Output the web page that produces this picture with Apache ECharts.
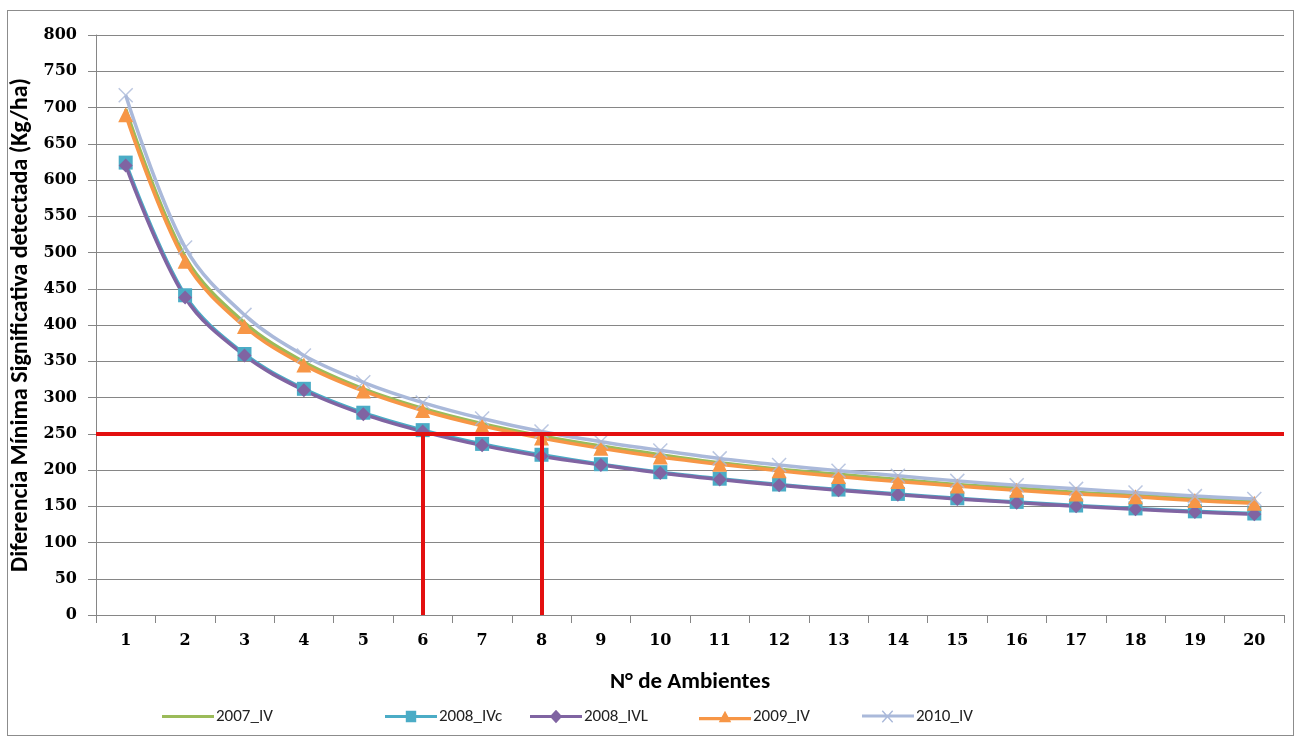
<!DOCTYPE html>
<html>
<head>
<meta charset="utf-8">
<script src="https://cdn.jsdelivr.net/npm/echarts@6/dist/echarts.min.js"></script>
<style>
  html, body { margin: 0; padding: 0; background: #fff; }
  #frame { position: absolute; left: 7px; top: 10px; width: 1287px; height: 726px; border: 1px solid #8c8c8c; box-sizing: border-box; }
  #chart { position: absolute; left: 0; top: 0; width: 1301px; height: 744px; }
</style>
</head>
<body>
<div id="frame"></div>
<div id="chart"></div>
<script>
// ============ datos ============
const ambientes = ['1','2','3','4','5','6','7','8','9','10','11','12','13','14','15','16','17','18','19','20'];
const s2007IV  = [698, 494, 403, 349, 312, 285, 264, 247, 233, 221, 210, 201, 194, 187, 180, 175, 169, 165, 160, 156];
const s2008IVc = [624, 441, 360, 312, 279, 255, 236, 221, 208, 197, 188, 180, 173, 167, 161, 156, 151, 147, 143, 140];
const s2008IVL = [620, 438, 358, 310, 277, 253, 234, 219, 207, 196, 187, 179, 172, 166, 160, 155, 150, 146, 142, 139];
const s2009IV  = [690, 488, 398, 345, 309, 282, 261, 244, 230, 218, 208, 199, 191, 184, 178, 172, 167, 163, 158, 154];
const s2010IV  = [717, 507, 414, 358, 321, 293, 271, 253, 239, 227, 216, 207, 199, 192, 185, 179, 174, 169, 164, 160];
const umbral = 250;
const cortes = ['6', '8'];

const fnt = 'Carlito, Calibri, Lato, sans-serif';
const fntNum = '"DejaVu Serif", Cambria, serif';
const chart = echarts.init(document.getElementById('chart'));

function serie(name, data, color, symbol, size) {
  return {
    name: name, type: 'line', data: data, smooth: 0.35,
    symbol: symbol, symbolSize: size, showSymbol: size > 0,
    lineStyle: { color: color, width: 3.5 },
    itemStyle: { color: color },
    z: 3,
  };
}

const redLines = {
  silent: true, symbol: 'none', animation: false,
  lineStyle: { color: '#e31010', width: 4, type: 'solid' },
  label: { show: false },
  data: [
    { yAxis: umbral },
    ...cortes.map(c => [{ coord: [c, 0] }, { coord: [c, umbral] }]),
  ],
};

const series = [
  serie('2007_IV', s2007IV, '#9bbb59', 'none', 0),
  serie('2008_IVc', s2008IVc, '#4bacc6', 'rect', 14),
  serie('2008_IVL', s2008IVL, '#8064a2', 'diamond', 14),
  serie('2009_IV', s2009IV, '#f79646', 'triangle', 15),
  serie('2010_IV', s2010IV, '#aab9da', 'none', 0),
];
// marcador "x" para 2010_IV
series.push({
  name: '2010_IV', type: 'scatter', data: s2010IV,
  symbol: 'path://M0,0L10,10M10,0L0,10', symbolSize: 14,
  itemStyle: { color: 'none', borderColor: '#aab9da', borderWidth: 1.5 },
  z: 4,
});
series[0].markLine = redLines;

// iconos de leyenda: linea + marcador pequeño
const ln = 'M0,10L50,10L50,13L0,13Z';
const icons = {
  '2007_IV': 'path://' + ln,
  '2008_IVc': 'path://' + ln + 'M20,6L30,6L30,17L20,17Z',
  '2008_IVL': 'path://' + ln + 'M25,5L31,11.5L25,18L19,11.5Z',
  '2009_IV': 'path://' + ln + 'M25,4L31,15L19,15Z',
  '2010_IV': 'path://' + ln + 'M20,6L30,17L29,18L19,7ZM30,7L20,18L19,17L29,6Z',
};
const legendPos = [
  ['2007_IV', 157], ['2008_IVc', 380], ['2008_IVL', 525], ['2009_IV', 694], ['2010_IV', 857],
];

chart.setOption({
  animation: false,
  textStyle: { fontFamily: fnt },
  grid: { left: 96, right: 17, top: 35, bottom: 129, outerBoundsMode: 'none', containLabel: false },
  legend: legendPos.map(([n, x]) => ({
    bottom: 14, left: x, itemWidth: 52, itemHeight: 22, itemGap: 0,
    textStyle: { fontSize: 17, color: '#222', fontFamily: fnt, padding: [0, 0, 0, -3] },
    data: [{ name: n, icon: icons[n] }],
  })),
  xAxis: {
    type: 'category', data: ambientes, boundaryGap: true,
    name: 'N° de Ambientes', nameLocation: 'middle', nameGap: 56,
    nameTextStyle: { fontSize: 23, fontWeight: 'bold', color: '#000', fontFamily: fnt },
    axisLine: { lineStyle: { color: '#868686', width: 1 } },
    axisTick: { show: true, length: 8, lineStyle: { color: '#868686' } },
    axisLabel: { fontSize: 16, fontWeight: 'bold', color: '#000', margin: 18, fontFamily: fntNum },
  },
  yAxis: {
    type: 'value', min: 0, max: 800, interval: 50,
    name: 'Diferencia Mínima Significativa detectada (Kg/ha)', nameLocation: 'middle', nameGap: 61,
    nameTextStyle: { fontSize: 24, fontWeight: 'bold', color: '#000', fontFamily: fnt },
    axisLine: { show: true, lineStyle: { color: '#868686', width: 1 } },
    axisTick: { show: true, length: 8, lineStyle: { color: '#868686' } },
    axisLabel: { fontSize: 16, fontWeight: 'bold', color: '#000', margin: 19, fontFamily: fntNum },
    splitLine: { lineStyle: { color: '#868686', width: 1 } },
  },
  series: series,
});
</script>
</body>
</html>
